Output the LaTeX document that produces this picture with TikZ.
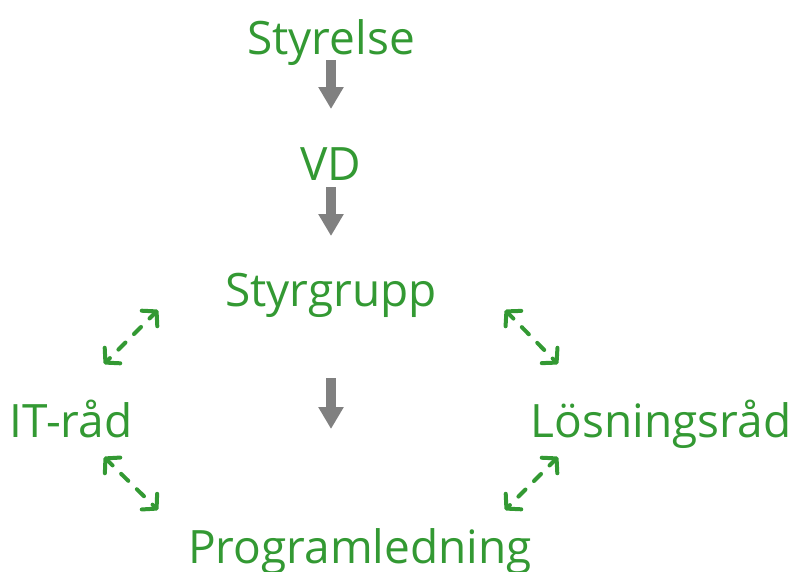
\documentclass[tikz,border=0pt]{standalone}
\usepackage{fontspec}
\setmainfont{Open Sans}
\usetikzlibrary{arrows.meta}
\definecolor{grn}{RGB}{51,153,51}
\definecolor{gry}{RGB}{128,128,128}
\tikzset{
  lbl/.style={text=grn, font=\fontsize{46}{50}\selectfont, inner sep=0pt, anchor=base},
  gryarrow/.style={draw=gry, line width=10pt, -{Triangle[length=22pt,width=24pt]}},
  grnarrow/.style={draw=grn, line width=4pt, line cap=round, dash pattern=on 10pt off 12pt, dash phase=2pt,
     {Straight Barb[round,length=10pt,width=22pt]}-{Straight Barb[round,length=10pt,width=22pt]}}
}
\begin{document}
\begin{tikzpicture}[x=1pt,y=-1pt]
\useasboundingbox (0,0) rectangle (794,571);
\node[lbl] (sty) at (331,54) {Styrelse};
\node[lbl] (vd) at (331,180) {VD};
\node[lbl] (sg) at (331,306) {Styrgrupp};
\node[lbl] (it) at (71,437) {IT-råd};
\node[lbl] (lr) at (661,437) {Lösningsråd};
\node[lbl] (pl) at (360,563) {Programledning};
\coordinate (a1s) at (331,60); \coordinate (a1e) at (331,109);
\coordinate (a2s) at (331,187); \coordinate (a2e) at (331,236);
\coordinate (a3s) at (331,378); \coordinate (a3e) at (331,429);
\draw[gryarrow] (a1s) -- (a1e);
\draw[gryarrow] (a2s) -- (a2e);
\draw[gryarrow] (a3s) -- (a3e);
\coordinate (g1a) at (158,310); \coordinate (g1b) at (104,364);
\coordinate (g2a) at (104,457); \coordinate (g2b) at (158,510);
\coordinate (g3a) at (505,310); \coordinate (g3b) at (558,364);
\coordinate (g4a) at (558,457); \coordinate (g4b) at (505,510);
\draw[grnarrow] (g1a) -- (g1b);
\draw[grnarrow] (g2a) -- (g2b);
\draw[grnarrow] (g3a) -- (g3b);
\draw[grnarrow] (g4a) -- (g4b);
\end{tikzpicture}
\end{document}
